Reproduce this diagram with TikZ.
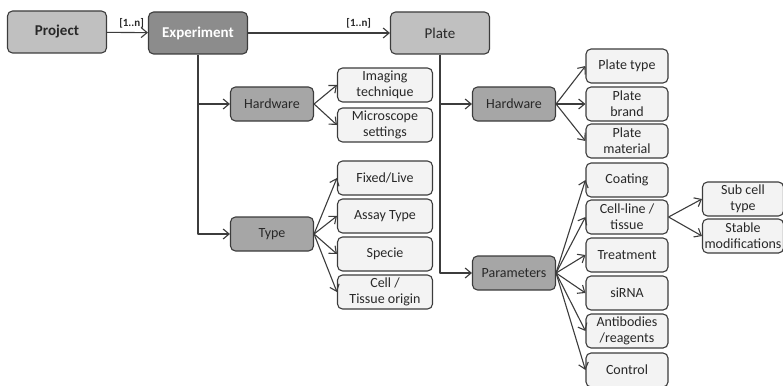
\documentclass[tikz,border=0pt]{standalone}
\usepackage{fontspec}
\setmainfont{Carlito}
\usetikzlibrary{arrows.meta}
\definecolor{edgegray}{RGB}{60,60,60}
\definecolor{txtgray}{RGB}{40,40,40}
\definecolor{topgray}{RGB}{192,192,192}
\definecolor{expgray}{RGB}{140,140,140}
\definecolor{midgray}{RGB}{166,166,166}
\definecolor{leafgray}{RGB}{243,243,243}
\begin{document}
\begin{tikzpicture}[x=1pt,y=-1pt,line width=1.1pt,line join=round,
  >={Straight Barb[length=6pt,width=10pt]},
  box/.style={draw=edgegray,rounded corners=5pt,inner sep=1pt,align=center,
    text=txtgray,font=\fontsize{14}{16}\selectfont},
  top/.style={box,minimum width=99pt,minimum height=42pt,fill=topgray,
    font=\fontsize{15}{18}\selectfont},
  mid/.style={box,minimum width=83pt,minimum height=34pt,fill=midgray},
  leaf/.style={box,minimum height=34pt,fill=leafgray},
  card/.style={font=\fontsize{11}{13}\selectfont\bfseries,text=txtgray}]
  \useasboundingbox (0,0) rectangle (783,385);
  % main chain
  \node[top,font=\fontsize{15}{18}\selectfont\bfseries] (proj) at (57,32) {Project};
  \node[top,fill=expgray,text=white,font=\fontsize{15}{18}\selectfont\bfseries]
    (exp) at (198,33) {Experiment};
  \node[top] (plate) at (440,33) {Plate};
  \draw[->,draw=edgegray] (proj) -- (exp) node[card,pos=.6,above=1pt] {[1..n]};
  \draw[->,draw=edgegray] (exp) -- (plate) node[card,pos=.78,above=1pt] {[1..n]};
  % experiment branch
  \node[mid] (hwE) at (272,104) {Hardware};
  \node[mid] (typ) at (272,234) {Type};
  \draw[->,draw=edgegray] (exp.south) |- (typ.west);
  \draw[->,draw=edgegray] (exp.south |- hwE.west) -- (hwE.west);
  \foreach \nm/\yy/\tx in {img/85/{Imaging\\technique},mic/125/{Microscope\\settings}} {
    \node[leaf,minimum width=95pt] (\nm) at (385,\yy) {\tx};
    \draw[->,draw=edgegray] (hwE.east) -- (\nm.west);
  }
  \foreach \nm/\yy/\tx in {fix/178/{Fixed/Live},assay/216/{Assay Type},
      spec/254/{Specie},orig/292/{Cell /\\Tissue origin}} {
    \node[leaf,minimum width=95pt] (\nm) at (385,\yy) {\tx};
    \draw[->,draw=edgegray] (typ.east) -- (\nm.west);
  }
  % plate branch
  \node[mid] (hwP) at (514,104) {Hardware};
  \node[mid] (par) at (514,273) {Parameters};
  \draw[->,draw=edgegray] (plate.south) |- (par.west);
  \draw[->,draw=edgegray] (plate.south |- hwP.west) -- (hwP.west);
  \foreach \nm/\yy/\tx in {ptype/66/{Plate type},pbrand/104/{Plate\\brand},
      pmat/141/{Plate\\material}} {
    \node[leaf,minimum width=82pt] (\nm) at (627,\yy) {\tx};
    \draw[->,draw=edgegray] (hwP.east) -- (\nm.west);
  }
  \foreach \nm/\yy/\tx in {coat/180/{Coating},cline/217/{Cell-line /\\tissue},
      treat/255/{Treatment},sirna/293/{siRNA},anti/331/{Antibodies\\/reagents},
      ctrl/370/{Control}} {
    \node[leaf,minimum width=82pt] (\nm) at (627,\yy) {\tx};
    \draw[->,draw=edgegray] (par.east) -- (\nm.west);
  }
  \foreach \nm/\yy/\tx in {sub/199/{Sub cell\\type},stab/236/{Stable\\modifications}} {
    \node[leaf,minimum width=81pt,inner xsep=0pt] (\nm) at (743,\yy) {\tx};
    \draw[->,draw=edgegray] (cline.east) -- (\nm.west);
  }
\end{tikzpicture}
\end{document}
